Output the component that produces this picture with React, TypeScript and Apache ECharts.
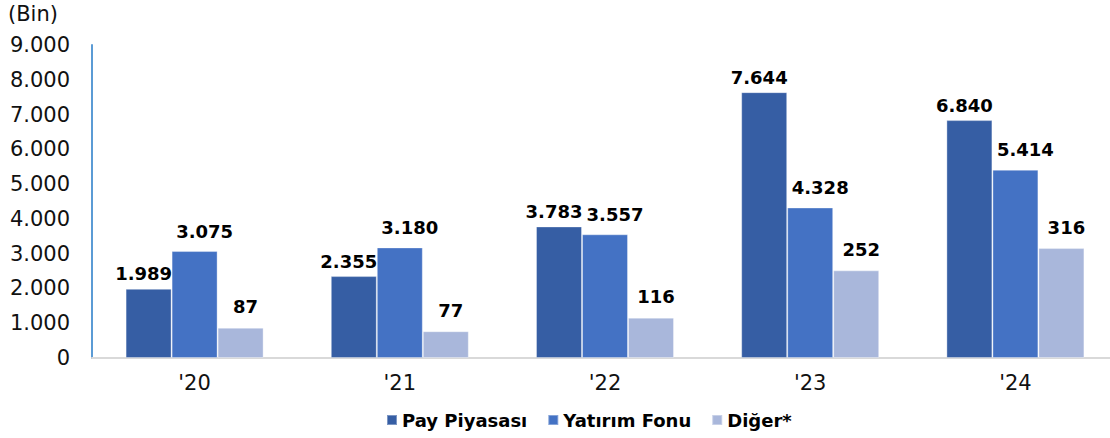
import React, { useEffect, useRef } from "react";
import * as echarts from "echarts";

const categories = ["'20", "'21", "'22", "'23", "'24"];
const payPiyasasi = [1989, 2355, 3783, 7644, 6840];
const yatirimFonu = [3075, 3180, 3557, 4328, 5414];
// Diğer* values as labelled; the reference draws these bars at 10x scale
const diger = [87, 77, 116, 252, 316];
const DIGER_BAR_SCALE = 10;
const seriesNames = ["Pay Piyasası", "Yatırım Fonu", "Diğer*"];
const yTicks = { min: 0, max: 9000, interval: 1000 };

const FONT = "'DejaVu Sans', Verdana, sans-serif";
const fmt = (v: number) => String(Math.round(v)).replace(/\B(?=(\d{3})+(?!\d))/g, ".");

export default function App() {
  const ref = useRef<HTMLDivElement>(null);
  useEffect(() => {
    document.body.style.margin = "0";
    document.body.style.overflow = "hidden";
    if (!ref.current) return;
    const chart = echarts.init(ref.current, undefined, { renderer: "svg" });
    const labelBase = {
      show: true,
      position: "top" as const,
      fontFamily: FONT,
      fontWeight: "bold" as const,
      fontSize: 18,
      color: "#000",
    };
    chart.setOption({
      animation: false,
      grid: { left: 92, right: 2, top: 45, bottom: 80 },
      graphic: [
        {
          type: "text",
          left: 8,
          top: 3,
          style: { text: "(Bin)", fontFamily: FONT, fontSize: 21, fill: "#111" },
        },
      ],
      legend: {
        bottom: 4,
        left: 381,
        itemWidth: 10,
        itemHeight: 10,
        itemGap: 20,
        icon: "rect",
        textStyle: { fontFamily: FONT, fontWeight: "bold", fontSize: 18, color: "#000", padding: [0, 0, 0, 0] },
        data: seriesNames,
      },
      xAxis: {
        type: "category",
        data: categories,
        axisLine: { show: true, lineStyle: { color: "#D9D9D9", width: 2 } },
        axisTick: { show: false },
        axisLabel: { fontFamily: FONT, fontSize: 21, color: "#111", margin: 14 },
      },
      yAxis: {
        type: "value",
        min: yTicks.min,
        max: yTicks.max,
        interval: yTicks.interval,
        axisLine: { show: true, lineStyle: { color: "#5B9BD5", width: 2 } },
        axisTick: { show: false },
        splitLine: { show: false },
        axisLabel: { fontFamily: FONT, fontSize: 21, color: "#111", margin: 22, formatter: (v: number) => fmt(v) },
      },
      series: [
        {
          name: seriesNames[0],
          type: "bar",
          data: payPiyasasi,
          barWidth: 46,
          barGap: "0%",
          itemStyle: { color: "#365EA4", borderColor: "rgba(255,255,255,0.35)", borderWidth: 1 },
          label: { ...labelBase, distance: 6, offset: [-5, 0], formatter: (p: any) => fmt(p.value) },
        },
        {
          name: seriesNames[1],
          type: "bar",
          data: yatirimFonu,
          barWidth: 46,
          barGap: "0%",
          itemStyle: { color: "#4472C4", borderColor: "rgba(255,255,255,0.35)", borderWidth: 1 },
          label: { ...labelBase, distance: 11, offset: [10, 0], formatter: (p: any) => fmt(p.value) },
        },
        {
          name: seriesNames[2],
          type: "bar",
          data: diger.map((v) => v * DIGER_BAR_SCALE),
          barWidth: 46,
          barGap: "0%",
          itemStyle: { color: "#A9B7DB", borderColor: "rgba(255,255,255,0.35)", borderWidth: 1 },
          label: { ...labelBase, distance: 12, offset: [5, 0], formatter: (p: any) => fmt(diger[p.dataIndex]) },
        },
      ],
    });
    return () => chart.dispose();
  }, []);
  return <div ref={ref} style={{ width: 1120, height: 438 }} />;
}
